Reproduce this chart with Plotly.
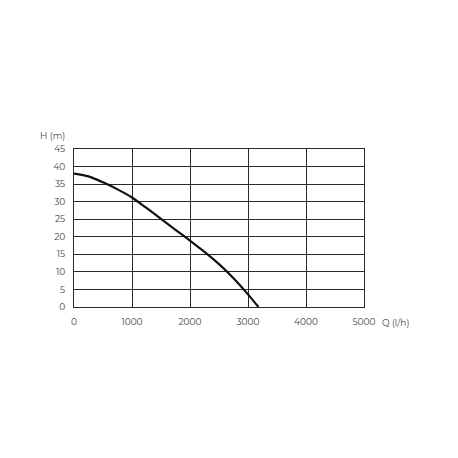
import plotly.graph_objects as go

# pump curve
flow_lh = [0, 250, 500, 750, 1000, 1250, 1500, 1750, 2000, 2250, 2500, 2750, 3000, 3180]
head_m = [38, 37.2, 35.5, 33.5, 31.2, 28.2, 25.1, 22.0, 18.9, 15.7, 12.2, 8.2, 3.6, 0]

x_ticks = [0, 1000, 2000, 3000, 4000, 5000]
y_ticks = [0, 5, 10, 15, 20, 25, 30, 35, 40, 45]

TEXT = "#444444"
GRID = "#2a2a2a"
FONT = "Montserrat, Lato, 'Open Sans', sans-serif"

fig = go.Figure()
fig.add_trace(
    go.Scatter(
        x=flow_lh,
        y=head_m,
        mode="lines",
        line=dict(color="#111111", width=2.2, shape="spline", smoothing=0.8),
        hoverinfo="skip",
        showlegend=False,
    )
)

fig.update_xaxes(
    range=[0, 5000],
    tickvals=x_ticks,
    showgrid=True,
    gridcolor=GRID,
    gridwidth=1,
    zeroline=False,
    showline=True,
    linecolor=GRID,
    linewidth=1,
    mirror=True,
    ticks="",
    ticklabelstandoff=6,
    tickfont=dict(size=9, color=TEXT, family=FONT),
)
fig.update_yaxes(
    range=[0, 45],
    tickvals=y_ticks,
    showgrid=True,
    gridcolor=GRID,
    gridwidth=1,
    zeroline=False,
    showline=True,
    linecolor=GRID,
    linewidth=1,
    mirror=True,
    ticks="",
    ticklabelstandoff=6,
    tickfont=dict(size=9, color=TEXT, family=FONT),
)

fig.add_annotation(
    text="H (m)", xref="paper", yref="paper", x=-0.075, y=1.035,
    xanchor="center", yanchor="bottom", showarrow=False,
    font=dict(size=9, color=TEXT, family=FONT),
)
fig.add_annotation(
    text="Q (l/h)", xref="paper", yref="paper", x=1.055, y=-0.05,
    xanchor="left", yanchor="top", showarrow=False,
    font=dict(size=9, color=TEXT, family=FONT),
)

# page body adds 8px, so the margins are pulled in by that much
fig.update_layout(
    width=458,
    height=458,
    margin=dict(l=66, r=102, t=141, b=159),
    paper_bgcolor="white",
    plot_bgcolor="white",
)

fig.write_html("out.html")
